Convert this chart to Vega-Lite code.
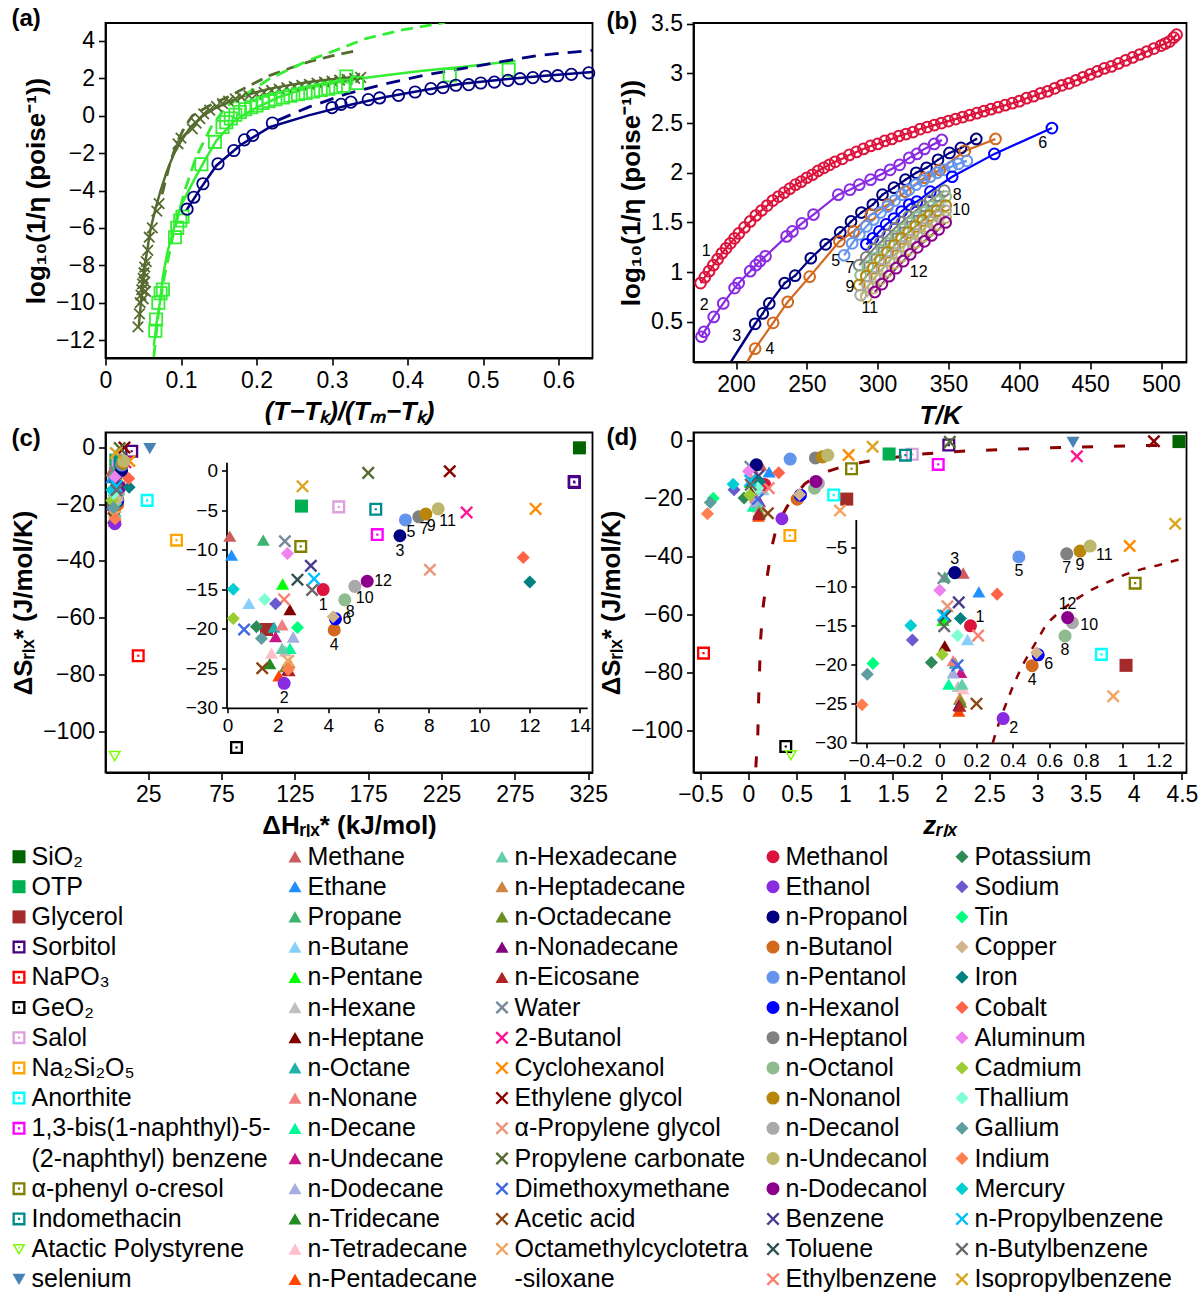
{
  "$schema": "https://vega.github.io/schema/vega-lite/v6.json",
  "padding": {"left": 6.5, "top": 6, "right": 5, "bottom": 0},
  "config": {
    "font": "Liberation Sans",
    "view": {"stroke": "#000", "strokeWidth": 1.8},
    "axis": {
      "grid": false, "domainColor": "#000", "domainWidth": 1.8, "tickColor": "#000", "tickWidth": 1.6, "tickSize": 7,
      "labelColor": "#000", "labelFontSize": 23, "labelFont": "Liberation Sans", "labelPadding": 4,
      "titleColor": "#000", "titleFont": "Liberation Sans", "titleFontSize": 26, "titleFontWeight": "bold", "titlePadding": 6,
      "labelFlush": false, "labelOverlap": false, "labelBound": false
    },
    "title": {"fontSize": 24, "fontWeight": "bold", "font": "Liberation Sans", "color": "#000"},
    "text": {"font": "Liberation Sans", "color": "#000"}
  },
  "datasets": {
    "aOx": [
      {"x":0.043,"y":-11.3},{"x":0.045,"y":-10.6},{"x":0.046,"y":-10.0},{"x":0.047,"y":-9.6},{"x":0.048,"y":-9.3},{"x":0.049,"y":-9.0},{"x":0.05,"y":-8.7},{"x":0.05,"y":-9.8},{"x":0.051,"y":-8.4},{"x":0.052,"y":-8.9},{"x":0.052,"y":-8.1},{"x":0.053,"y":-9.4},{"x":0.054,"y":-7.8},{"x":0.056,"y":-7.2},{"x":0.058,"y":-6.5},{"x":0.062,"y":-6.0},{"x":0.068,"y":-5.1},{"x":0.071,"y":-4.7},{"x":0.096,"y":-1.5},{"x":0.1,"y":-1.2},{"x":0.115,"y":-0.7},{"x":0.12,"y":-0.4},{"x":0.125,"y":-0.15},{"x":0.13,"y":0.1},{"x":0.138,"y":0.3},{"x":0.147,"y":0.5},{"x":0.155,"y":0.65},{"x":0.163,"y":0.78},{"x":0.172,"y":0.9},{"x":0.18,"y":1.0},{"x":0.19,"y":1.08},{"x":0.2,"y":1.15},{"x":0.21,"y":1.25},{"x":0.22,"y":1.35},{"x":0.23,"y":1.42},{"x":0.24,"y":1.5},{"x":0.25,"y":1.56},{"x":0.26,"y":1.62},{"x":0.27,"y":1.68},{"x":0.28,"y":1.74},{"x":0.29,"y":1.8},{"x":0.3,"y":1.85},{"x":0.31,"y":1.9},{"x":0.32,"y":1.95},{"x":0.33,"y":2.0},{"x":0.338,"y":2.05}
    ],
    "aGsq": [
      {"x":0.066,"y":-11.5},{"x":0.067,"y":-10.9},{"x":0.07,"y":-10.0},{"x":0.073,"y":-9.5},{"x":0.076,"y":-9.3},{"x":0.092,"y":-6.5},{"x":0.095,"y":-6.0},{"x":0.099,"y":-5.6},{"x":0.102,"y":-5.4},{"x":0.127,"y":-2.6},{"x":0.145,"y":-1.4},{"x":0.155,"y":-0.6},{"x":0.16,"y":-0.35},{"x":0.166,"y":-0.15},{"x":0.172,"y":0.05},{"x":0.178,"y":0.2},{"x":0.185,"y":0.35},{"x":0.193,"y":0.45},{"x":0.2,"y":0.55},{"x":0.208,"y":0.68},{"x":0.216,"y":0.78},{"x":0.225,"y":0.88},{"x":0.235,"y":0.98},{"x":0.245,"y":1.07},{"x":0.255,"y":1.15},{"x":0.265,"y":1.22},{"x":0.275,"y":1.3},{"x":0.285,"y":1.38},{"x":0.295,"y":1.45},{"x":0.305,"y":1.52},{"x":0.315,"y":1.6},{"x":0.319,"y":2.1},{"x":0.333,"y":1.75},{"x":0.456,"y":2.16},{"x":0.534,"y":2.46}
    ],
    "aNc": [
      {"x":0.108,"y":-5.0},{"x":0.117,"y":-4.36},{"x":0.129,"y":-3.64},{"x":0.149,"y":-2.57},{"x":0.17,"y":-1.86},{"x":0.184,"y":-1.29},{"x":0.195,"y":-1.05},{"x":0.221,"y":-0.39},{"x":0.3,"y":0.43},{"x":0.312,"y":0.61},{"x":0.325,"y":0.73},{"x":0.348,"y":0.86},{"x":0.363,"y":0.95},{"x":0.388,"y":1.09},{"x":0.41,"y":1.27},{"x":0.431,"y":1.45},{"x":0.447,"y":1.5},{"x":0.464,"y":1.63},{"x":0.481,"y":1.66},{"x":0.497,"y":1.75},{"x":0.515,"y":1.8},{"x":0.533,"y":1.89},{"x":0.549,"y":1.98},{"x":0.566,"y":2.04},{"x":0.583,"y":2.11},{"x":0.599,"y":2.14},{"x":0.617,"y":2.21},{"x":0.64,"y":2.29}
    ],
    "aOs": [
      {"x":0.044,"y":-11.3},{"x":0.048,"y":-9.5},{"x":0.052,"y":-8.0},{"x":0.056,"y":-7.0},{"x":0.06,"y":-6.0},{"x":0.066,"y":-5.0},{"x":0.073,"y":-4.0},{"x":0.081,"y":-3.0},{"x":0.09,"y":-2.1},{"x":0.1,"y":-1.35},{"x":0.113,"y":-0.6},{"x":0.127,"y":-0.07},{"x":0.145,"y":0.4},{"x":0.168,"y":0.82},{"x":0.19,"y":1.15},{"x":0.218,"y":1.45},{"x":0.245,"y":1.65},{"x":0.269,"y":1.8},{"x":0.3,"y":1.95},{"x":0.335,"y":2.1}
    ],
    "aOd": [
      {"x":0.075,"y":-4.2},{"x":0.085,"y":-2.6},{"x":0.095,"y":-1.4},{"x":0.105,"y":-0.6},{"x":0.115,"y":0.0},{"x":0.127,"y":0.29},{"x":0.145,"y":0.7},{"x":0.162,"y":1.0},{"x":0.19,"y":1.6},{"x":0.218,"y":2.16},{"x":0.245,"y":2.55},{"x":0.269,"y":2.88},{"x":0.3,"y":3.2},{"x":0.335,"y":3.5}
    ],
    "aGs": [
      {"x":0.064,"y":-12.3},{"x":0.068,"y":-11.0},{"x":0.072,"y":-10.0},{"x":0.076,"y":-8.6},{"x":0.082,"y":-7.3},{"x":0.091,"y":-5.96},{"x":0.1,"y":-4.8},{"x":0.117,"y":-3.46},{"x":0.13,"y":-2.5},{"x":0.147,"y":-1.32},{"x":0.17,"y":-0.3},{"x":0.193,"y":0.29},{"x":0.23,"y":1.0},{"x":0.269,"y":1.5},{"x":0.32,"y":1.9},{"x":0.371,"y":2.16},{"x":0.42,"y":2.4},{"x":0.472,"y":2.6},{"x":0.543,"y":2.93}
    ],
    "aGd": [
      {"x":0.064,"y":-12.9},{"x":0.07,"y":-10.6},{"x":0.078,"y":-8.6},{"x":0.09,"y":-6.3},{"x":0.105,"y":-4.0},{"x":0.12,"y":-2.2},{"x":0.14,"y":-0.6},{"x":0.16,"y":0.5},{"x":0.188,"y":1.2},{"x":0.218,"y":2.0},{"x":0.269,"y":2.96},{"x":0.305,"y":3.5},{"x":0.345,"y":4.13},{"x":0.391,"y":4.57},{"x":0.442,"y":4.93},{"x":0.45,"y":5.0}
    ],
    "aNs": [
      {"x":0.107,"y":-5.07},{"x":0.127,"y":-3.82},{"x":0.147,"y":-2.66},{"x":0.178,"y":-1.59},{"x":0.218,"y":-0.6},{"x":0.269,"y":0.02},{"x":0.32,"y":0.55},{"x":0.371,"y":1.0},{"x":0.421,"y":1.36},{"x":0.472,"y":1.71},{"x":0.523,"y":1.93},{"x":0.574,"y":2.11},{"x":0.645,"y":2.34}
    ],
    "aNd": [
      {"x":0.228,"y":-0.25},{"x":0.269,"y":0.46},{"x":0.32,"y":1.18},{"x":0.371,"y":1.71},{"x":0.421,"y":2.16},{"x":0.472,"y":2.52},{"x":0.523,"y":2.88},{"x":0.574,"y":3.23},{"x":0.645,"y":3.5}
    ],
    "bp": [
      {"s":"1","T":175,"y":0.89},{"s":"1","T":178,"y":0.95},{"s":"1","T":181,"y":1.01},{"s":"1","T":184,"y":1.07},{"s":"1","T":187,"y":1.13},{"s":"1","T":190,"y":1.19},{"s":"1","T":193,"y":1.24},{"s":"1","T":196,"y":1.29},{"s":"1","T":199,"y":1.34},{"s":"1","T":202,"y":1.39},{"s":"1","T":206,"y":1.45},{"s":"1","T":210,"y":1.51},{"s":"1","T":214,"y":1.57},{"s":"1","T":218,"y":1.62},{"s":"1","T":222,"y":1.67},{"s":"1","T":226,"y":1.72},{"s":"1","T":230,"y":1.76},{"s":"1","T":234,"y":1.8},{"s":"1","T":238,"y":1.84},{"s":"1","T":242,"y":1.88},{"s":"1","T":246,"y":1.91},{"s":"1","T":250,"y":1.95},{"s":"1","T":254,"y":1.98},{"s":"1","T":258,"y":2.02},{"s":"1","T":262,"y":2.05},{"s":"1","T":266,"y":2.08},{"s":"1","T":270,"y":2.11},{"s":"1","T":275,"y":2.14},{"s":"1","T":280,"y":2.18},{"s":"1","T":285,"y":2.21},{"s":"1","T":290,"y":2.24},{"s":"1","T":295,"y":2.27},{"s":"1","T":300,"y":2.29},{"s":"1","T":305,"y":2.32},{"s":"1","T":310,"y":2.34},{"s":"1","T":315,"y":2.37},{"s":"1","T":320,"y":2.39},{"s":"1","T":325,"y":2.41},{"s":"1","T":330,"y":2.44},{"s":"1","T":335,"y":2.46},{"s":"1","T":340,"y":2.48},{"s":"1","T":345,"y":2.5},{"s":"1","T":350,"y":2.52},{"s":"1","T":355,"y":2.54},{"s":"1","T":360,"y":2.56},{"s":"1","T":365,"y":2.58},{"s":"1","T":370,"y":2.6},{"s":"1","T":375,"y":2.62},{"s":"1","T":380,"y":2.64},{"s":"1","T":385,"y":2.66},{"s":"1","T":390,"y":2.68},{"s":"1","T":395,"y":2.7},{"s":"1","T":400,"y":2.72},{"s":"1","T":405,"y":2.75},{"s":"1","T":410,"y":2.77},{"s":"1","T":415,"y":2.8},{"s":"1","T":420,"y":2.82},{"s":"1","T":425,"y":2.85},{"s":"1","T":430,"y":2.88},{"s":"1","T":435,"y":2.9},{"s":"1","T":440,"y":2.93},{"s":"1","T":445,"y":2.96},{"s":"1","T":450,"y":2.99},{"s":"1","T":455,"y":3.02},{"s":"1","T":460,"y":3.05},{"s":"1","T":465,"y":3.07},{"s":"1","T":470,"y":3.1},{"s":"1","T":475,"y":3.13},{"s":"1","T":480,"y":3.16},{"s":"1","T":485,"y":3.19},{"s":"1","T":490,"y":3.22},{"s":"1","T":495,"y":3.25},{"s":"1","T":500,"y":3.28},{"s":"1","T":503,"y":3.3},{"s":"1","T":506,"y":3.32},{"s":"1","T":509,"y":3.36},{"s":"1","T":511,"y":3.39},
      {"s":"2","T":175.6,"y":0.35},{"s":"2","T":177.5,"y":0.4},{"s":"2","T":184.3,"y":0.55},{"s":"2","T":191,"y":0.685},{"s":"2","T":199,"y":0.84},{"s":"2","T":201.9,"y":0.89},{"s":"2","T":210,"y":1.01},{"s":"2","T":214,"y":1.07},{"s":"2","T":216.8,"y":1.11},{"s":"2","T":220.8,"y":1.16},{"s":"2","T":235.7,"y":1.36},{"s":"2","T":239.8,"y":1.41},{"s":"2","T":246.5,"y":1.49},{"s":"2","T":254.7,"y":1.58},{"s":"2","T":272.2,"y":1.78},{"s":"2","T":280.4,"y":1.83},{"s":"2","T":287,"y":1.88},{"s":"2","T":295,"y":1.93},{"s":"2","T":302,"y":1.98},{"s":"2","T":308.8,"y":2.03},{"s":"2","T":315.5,"y":2.08},{"s":"2","T":322.3,"y":2.15},{"s":"2","T":327.7,"y":2.19},{"s":"2","T":333,"y":2.24},{"s":"2","T":339.9,"y":2.29},{"s":"2","T":345.3,"y":2.33},
      {"s":"3","T":213.5,"y":0.48},{"s":"3","T":218.9,"y":0.585},{"s":"3","T":223.5,"y":0.685},{"s":"3","T":234.4,"y":0.89},{"s":"3","T":241.7,"y":0.965},{"s":"3","T":252.8,"y":1.14},{"s":"3","T":263.3,"y":1.28},{"s":"3","T":273.6,"y":1.4},{"s":"3","T":281.2,"y":1.51},{"s":"3","T":288.5,"y":1.6},{"s":"3","T":296.6,"y":1.68},{"s":"3","T":303.4,"y":1.78},{"s":"3","T":311.5,"y":1.85},{"s":"3","T":319.6,"y":1.93},{"s":"3","T":327.2,"y":2.0},{"s":"3","T":334.5,"y":2.05},{"s":"3","T":342.6,"y":2.13},{"s":"3","T":350.7,"y":2.2},{"s":"3","T":358.8,"y":2.25},{"s":"3","T":369.6,"y":2.34},
      {"s":"4","T":213.5,"y":0.23},{"s":"4","T":226.2,"y":0.49},{"s":"4","T":236.5,"y":0.7},{"s":"4","T":252,"y":0.955},{"s":"4","T":273,"y":1.31},{"s":"4","T":283,"y":1.41},{"s":"4","T":295.2,"y":1.58},{"s":"4","T":307.4,"y":1.68},{"s":"4","T":319.6,"y":1.81},{"s":"4","T":333,"y":1.95},{"s":"4","T":343.9,"y":2.03},{"s":"4","T":361.5,"y":2.22},{"s":"4","T":383.2,"y":2.34},
      {"s":"5","T":276.3,"y":1.17},{"s":"5","T":282,"y":1.29},{"s":"5","T":287,"y":1.38},{"s":"5","T":292,"y":1.46},{"s":"5","T":297,"y":1.53},{"s":"5","T":302,"y":1.6},{"s":"5","T":307,"y":1.66},{"s":"5","T":312,"y":1.72},{"s":"5","T":317,"y":1.78},{"s":"5","T":322,"y":1.83},{"s":"5","T":327,"y":1.88},{"s":"5","T":332,"y":1.92},{"s":"5","T":337,"y":1.96},{"s":"5","T":342,"y":2.0},{"s":"5","T":347,"y":2.03},{"s":"5","T":352,"y":2.06},{"s":"5","T":357,"y":2.09},{"s":"5","T":363,"y":2.12},
      {"s":"6","T":292,"y":1.28},{"s":"6","T":296.6,"y":1.34},{"s":"6","T":301.2,"y":1.41},{"s":"6","T":306,"y":1.48},{"s":"6","T":311.5,"y":1.54},{"s":"6","T":316.9,"y":1.61},{"s":"6","T":322.3,"y":1.68},{"s":"6","T":327.7,"y":1.71},{"s":"6","T":337.2,"y":1.81},{"s":"6","T":352.6,"y":1.96},{"s":"6","T":382.4,"y":2.19},{"s":"6","T":423,"y":2.45},
      {"s":"7","T":287,"y":1.07},{"s":"7","T":292,"y":1.15},{"s":"7","T":297,"y":1.23},{"s":"7","T":302,"y":1.3},{"s":"7","T":307,"y":1.37},{"s":"7","T":312,"y":1.44},{"s":"7","T":317,"y":1.5},{"s":"7","T":322,"y":1.56},{"s":"7","T":327,"y":1.62},{"s":"7","T":332,"y":1.67},{"s":"7","T":337,"y":1.72},{"s":"7","T":342,"y":1.77},{"s":"7","T":347,"y":1.82},
      {"s":"8","T":288,"y":0.97},{"s":"8","T":293,"y":1.06},{"s":"8","T":298,"y":1.14},{"s":"8","T":303,"y":1.22},{"s":"8","T":308,"y":1.29},{"s":"8","T":313,"y":1.36},{"s":"8","T":318,"y":1.43},{"s":"8","T":323,"y":1.49},{"s":"8","T":328,"y":1.55},{"s":"8","T":333,"y":1.6},{"s":"8","T":338,"y":1.66},{"s":"8","T":343,"y":1.71},{"s":"8","T":348,"y":1.76},
      {"s":"9","T":287,"y":0.87},{"s":"9","T":292,"y":0.96},{"s":"9","T":297,"y":1.04},{"s":"9","T":302,"y":1.12},{"s":"9","T":307,"y":1.2},{"s":"9","T":312,"y":1.27},{"s":"9","T":317,"y":1.34},{"s":"9","T":322,"y":1.4},{"s":"9","T":327,"y":1.46},{"s":"9","T":332,"y":1.52},{"s":"9","T":337,"y":1.57},{"s":"9","T":342,"y":1.62},{"s":"9","T":348,"y":1.67},
      {"s":"10","T":288,"y":0.77},{"s":"10","T":293,"y":0.86},{"s":"10","T":298,"y":0.95},{"s":"10","T":303,"y":1.03},{"s":"10","T":308,"y":1.11},{"s":"10","T":313,"y":1.19},{"s":"10","T":318,"y":1.26},{"s":"10","T":323,"y":1.32},{"s":"10","T":328,"y":1.38},{"s":"10","T":333,"y":1.44},{"s":"10","T":338,"y":1.5},{"s":"10","T":343,"y":1.56},{"s":"10","T":348,"y":1.62},
      {"s":"11","T":292,"y":0.75},{"s":"11","T":297,"y":0.84},{"s":"11","T":302,"y":0.93},{"s":"11","T":307,"y":1.01},{"s":"11","T":312,"y":1.09},{"s":"11","T":317,"y":1.16},{"s":"11","T":322,"y":1.23},{"s":"11","T":327,"y":1.3},{"s":"11","T":332,"y":1.36},{"s":"11","T":337,"y":1.42},{"s":"11","T":342,"y":1.48},{"s":"11","T":348,"y":1.55},
      {"s":"12","T":298,"y":0.8},{"s":"12","T":303,"y":0.88},{"s":"12","T":308,"y":0.96},{"s":"12","T":313,"y":1.04},{"s":"12","T":318,"y":1.11},{"s":"12","T":323,"y":1.18},{"s":"12","T":328,"y":1.25},{"s":"12","T":333,"y":1.31},{"s":"12","T":338,"y":1.37},{"s":"12","T":343,"y":1.43},{"s":"12","T":348,"y":1.5}
    ],
    "bext": [
      {"s":"3","T":196.5,"y":0.1},{"s":"3","T":205,"y":0.29},{"s":"3","T":213.5,"y":0.48},
      {"s":"4","T":208,"y":0.1},{"s":"4","T":213.5,"y":0.23}
    ],
    "bl": [
      {"t":"1","T":179,"y":1.21},{"t":"2","T":177.5,"y":0.67},{"t":"3","T":200.5,"y":0.36},{"t":"4","T":224,"y":0.23},{"t":"5","T":270.3,"y":1.11},{"t":"6","T":416.5,"y":2.3},{"t":"7","T":280.4,"y":1.04},{"t":"8","T":356.1,"y":1.78},{"t":"9","T":280.4,"y":0.85},{"t":"10","T":358.8,"y":1.63},{"t":"11","T":294.4,"y":0.64},{"t":"12","T":329,"y":1.0}
    ],
    "dc": [
      {"z":0.076,"s":-112.9},{"z":0.097,"s":-101.3},{"z":0.104,"s":-90.9},{"z":0.125,"s":-69.0},{"z":0.148,"s":-58.4},{"z":0.19,"s":-47.7},{"z":0.242,"s":-36.7},{"z":0.29,"s":-30.0},{"z":0.33,"s":-27.0},{"z":0.36,"s":-25.2},{"z":0.4,"s":-22.8},{"z":0.45,"s":-20.2},{"z":0.51,"s":-17.8},{"z":0.585,"s":-14.8},{"z":0.667,"s":-13.0},{"z":0.75,"s":-11.6},{"z":0.83,"s":-10.45},{"z":0.92,"s":-9.45},{"z":1.015,"s":-8.5},{"z":1.106,"s":-7.8},{"z":1.197,"s":-7.3},{"z":1.289,"s":-6.7},{"z":1.34,"s":-6.45},{"z":1.42,"s":-6.1},{"z":1.73,"s":-4.7},{"z":2.05,"s":-3.9},{"z":2.35,"s":-3.3},{"z":2.72,"s":-2.9},{"z":3.03,"s":-2.5},{"z":3.36,"s":-2.1},{"z":3.69,"s":-1.9},{"z":4.01,"s":-1.6},{"z":4.33,"s":-1.5}
    ],
    "pts": [
      {"n":"SiO₂","h":319,"s":-0.2,"z":4.47},
      {"n":"OTP","h":2.94,"s":-4.5,"z":1.46},
      {"n":"Glycerol","h":1.55,"s":-20.1,"z":1.02},
      {"n":"Sorbitol","h":13.77,"s":-1.4,"z":2.08},
      {"n":"Sorbitol","h":315.6,"s":-12.4},
      {"n":"NaPO₃","h":18.2,"s":-73.4,"z":-0.467},
      {"n":"GeO₂","h":85.2,"s":-105.7,"z":0.387},
      {"n":"Salol","h":4.42,"s":-4.6,"z":1.7},
      {"n":"Na₂Si₂O₅","h":44.3,"s":-32.7,"z":0.43},
      {"n":"Anorthite","h":24.3,"s":-18.7,"z":0.885},
      {"n":"1,3-bis(1-naphthyl)-5-(2-naphthyl) benzene","h":5.95,"s":-8.1,"z":1.97},
      {"n":"α-phenyl o-cresol","h":2.91,"s":-9.6,"z":1.07},
      {"n":"Indomethacin","h":5.89,"s":-4.9,"z":1.63},
      {"n":"Atactic Polystyrene","h":2.2,"s":-108.7,"z":0.44},
      {"n":"selenium","h":26.1,"s":-0.5,"z":3.37},
      {"n":"Methane","h":0.09,"s":-8.3,"z":0.128},
      {"n":"Ethane","h":0.16,"s":-10.7,"z":0.214},
      {"n":"Propane","h":1.42,"s":-8.8,"z":0.027},
      {"n":"n-Butane","h":0.85,"s":-16.8,"z":0.152},
      {"n":"n-Pentane","h":2.19,"s":-14.35,"z":0.018},
      {"n":"n-Hexane","h":2.3,"s":-22.8,"z":0.1},
      {"n":"n-Heptane","h":2.48,"s":-17.6,"z":0.027},
      {"n":"n-Octane","h":1.85,"s":-19.8,"z":0.085},
      {"n":"n-Nonane","h":2.17,"s":-19.5,"z":0.073},
      {"n":"n-Decane","h":2.48,"s":-22.5,"z":0.049},
      {"n":"n-Undecane","h":1.91,"s":-21.0,"z":0.115},
      {"n":"n-Dodecane","h":2.61,"s":-21.05,"z":0.073},
      {"n":"n-Tridecane","h":1.68,"s":-24.4,"z":0.11},
      {"n":"n-Tetradecane","h":1.75,"s":-23.1,"z":0.128},
      {"n":"n-Pentadecane","h":2.04,"s":-25.95,"z":0.104},
      {"n":"n-Hexadecane","h":2.17,"s":-22.5,"z":0.122},
      {"n":"n-Heptadecane","h":2.45,"s":-24.3,"z":0.11},
      {"n":"n-Octadecane","h":2.3,"s":-24.8,"z":0.115},
      {"n":"n-Nonadecane","h":2.4,"s":-25.2,"z":0.105},
      {"n":"n-Eicosane","h":2.45,"s":-25.3,"z":0.11},
      {"n":"Water","h":2.28,"s":-8.95,"z":0.02},
      {"n":"2-Butanol","h":9.5,"s":-5.3,"z":3.41},
      {"n":"Cyclohexanol","h":12.24,"s":-4.85,"z":1.04},
      {"n":"Ethylene glycol","h":8.83,"s":-0.1,"z":4.21},
      {"n":"α-Propylene glycol","h":8.04,"s":-12.55,"z":0.042},
      {"n":"Propylene carbonate","h":5.59,"s":-0.3,"z":2.09},
      {"n":"Dimethoxymethane","h":0.66,"s":-20.1,"z":0.097},
      {"n":"Acetic acid","h":1.38,"s":-25.0,"z":0.201},
      {"n":"Octamethylcyclotetrasiloxane","h":2.41,"s":-24.05,"z":0.95},
      {"n":"Methanol","h":3.8,"s":-15.05,"z":0.168,"k":1},
      {"n":"Ethanol","h":2.25,"s":-26.9,"z":0.347,"k":2},
      {"n":"n-Propanol","h":6.85,"s":-8.25,"z":0.082,"k":3},
      {"n":"n-Butanol","h":4.24,"s":-20.15,"z":0.506,"k":4},
      {"n":"n-Pentanol","h":7.07,"s":-6.25,"z":0.433,"k":5},
      {"n":"n-Hexanol","h":4.29,"s":-18.75,"z":0.539,"k":6},
      {"n":"n-Heptanol","h":7.6,"s":-5.85,"z":0.695,"k":7},
      {"n":"n-Octanol","h":4.66,"s":-16.35,"z":0.686,"k":8},
      {"n":"n-Nonanol","h":7.88,"s":-5.5,"z":0.768,"k":9},
      {"n":"n-Decanol","h":5.06,"s":-14.65,"z":0.726,"k":10},
      {"n":"n-Undecanol","h":8.37,"s":-4.85,"z":0.823,"k":11},
      {"n":"n-Dodecanol","h":5.55,"s":-14.0,"z":0.7,"k":12},
      {"n":"Benzene","h":3.31,"s":-12.05,"z":0.104},
      {"n":"Toluene","h":2.78,"s":-13.8,"z":0.03},
      {"n":"Ethylbenzene","h":2.25,"s":-16.3,"z":0.21},
      {"n":"Potassium","h":1.15,"s":-19.75,"z":-0.046},
      {"n":"Sodium","h":1.91,"s":-16.85,"z":-0.15},
      {"n":"Tin","h":2.78,"s":-19.85,"z":-0.366},
      {"n":"Copper","h":4.2,"s":-18.5,"z":0.53},
      {"n":"Iron","h":12.01,"s":-14.1,"z":0.113},
      {"n":"Cobalt","h":11.75,"s":-11.0,"z":0.314},
      {"n":"Aluminum","h":2.38,"s":-10.5,"z":0.0},
      {"n":"Cadmium","h":0.23,"s":-18.7,"z":0.013},
      {"n":"Thallium","h":1.48,"s":-16.3,"z":0.097},
      {"n":"Gallium","h":1.35,"s":-21.25,"z":-0.397},
      {"n":"Indium","h":2.41,"s":-25.15,"z":-0.426},
      {"n":"Mercury","h":0.23,"s":-15.0,"z":-0.159},
      {"n":"n-Propylbenzene","h":3.44,"s":-13.7,"z":0.018},
      {"n":"n-Butylbenzene","h":3.36,"s":-15.1,"z":0.024},
      {"n":"Isopropylbenzene","h":2.98,"s":-2.0,"z":1.289}
    ]
  },
  "concat": [
    {
      "title": {"text": "(a)", "anchor": "start", "frame": "group", "dx": -94, "offset": -8},
      "width": 487,
      "height": 335,
      "encoding": {
        "x": {"field": "x", "type": "quantitative", "scale": {"domain": [0, 0.645], "nice": false, "zero": false}, "axis": {"values": [0, 0.1, 0.2, 0.3, 0.4, 0.5, 0.6], "format": ".6~g", "title": "(T−Tₖ)/(Tₘ−Tₖ)", "titleFontStyle": "italic"}},
        "y": {"field": "y", "type": "quantitative", "scale": {"domain": [-12.96, 4.96], "nice": false, "zero": false}, "axis": {"values": [-12, -10, -8, -6, -4, -2, 0, 2, 4], "format": ".6~g", "title": "log₁₀(1/η (poise⁻¹))"}}
      },
      "layer": [
        {"data": {"name": "aOs"}, "mark": {"type": "line", "color": "#556b2f", "strokeWidth": 2.5, "clip": true}},
        {"data": {"name": "aOd"}, "mark": {"type": "line", "color": "#556b2f", "strokeWidth": 2.8, "strokeDash": [12, 7], "clip": true}},
        {"data": {"name": "aGs"}, "mark": {"type": "line", "color": "#33ee33", "strokeWidth": 2.5, "clip": true}},
        {"data": {"name": "aGd"}, "mark": {"type": "line", "color": "#33ee33", "strokeWidth": 2.8, "strokeDash": [12, 7], "clip": true}},
        {"data": {"name": "aNs"}, "mark": {"type": "line", "color": "#000080", "strokeWidth": 2.5, "clip": true}},
        {"data": {"name": "aNd"}, "mark": {"type": "line", "color": "#000080", "strokeWidth": 2.8, "strokeDash": [14, 9], "clip": true}},
        {"data": {"name": "aOx"}, "mark": {"type": "point", "shape": "M-1,-1L1,1M-1,1L1,-1", "filled": false, "color": "#556b2f", "size": 110, "strokeWidth": 1.8, "opacity": 1}},
        {"data": {"name": "aGsq"}, "mark": {"type": "point", "shape": "square", "filled": false, "color": "#33ee33", "size": 150, "strokeWidth": 1.8, "opacity": 1}},
        {"data": {"name": "aNc"}, "mark": {"type": "point", "shape": "circle", "filled": false, "color": "#000080", "size": 130, "strokeWidth": 1.8, "opacity": 1}}
      ]
    },
    {
      "title": {"text": "(b)", "anchor": "start", "frame": "group", "dx": -87, "offset": -21},
      "width": 493,
      "height": 339,
      "encoding": {
        "x": {"field": "T", "type": "quantitative", "scale": {"domain": [170, 518], "nice": false, "zero": false}, "axis": {"values": [200, 250, 300, 350, 400, 450, 500], "format": ".6~g", "title": "T/K", "titleFontStyle": "italic"}},
        "y": {"field": "y", "type": "quantitative", "scale": {"domain": [0.096, 3.507], "nice": false, "zero": false}, "axis": {"values": [0.5, 1, 1.5, 2, 2.5, 3, 3.5], "format": ".6~g", "title": "log₁₀(1/η (poise⁻¹))"}}
      },
      "layer": [
        {"data": {"name": "bext"}, "mark": {"type": "line", "strokeWidth": 2.5, "clip": true}, "encoding": {"stroke": {"field": "s", "type": "nominal", "legend": null, "scale": {"domain": ["1","2","3","4","5","6","7","8","9","10","11","12"], "range": ["#dc143c","#8a2be2","#000080","#d2691e","#6495ed","#0000ff","#808080","#8fbc8f","#b8860b","#a9a9a9","#bdb76b","#8b008b"]}}, "detail": {"field": "s"}}},
        {"data": {"name": "bp"}, "mark": {"type": "line", "strokeWidth": 2.2, "clip": true}, "encoding": {"stroke": {"field": "s", "type": "nominal", "legend": null}, "detail": {"field": "s"}}},
        {"data": {"name": "bp"}, "mark": {"type": "point", "shape": "circle", "filled": false, "size": 115, "strokeWidth": 2, "opacity": 1}, "encoding": {"stroke": {"field": "s", "type": "nominal", "legend": null}}},
        {"data": {"name": "bp"}, "transform": [{"filter": "datum.s == '3'"}], "mark": {"type": "point", "shape": "circle", "filled": true, "size": 6, "color": "#000080", "opacity": 1}},
        {"data": {"name": "bl"}, "mark": {"type": "text", "fontSize": 16, "align": "center", "baseline": "middle"}, "encoding": {"text": {"field": "t"}}}
      ]
    },
    {
      "title": {"text": "(c)", "anchor": "start", "frame": "group", "dx": -94, "offset": -18},
      "width": 487,
      "height": 340,
      "layer": [
        {
          "data": {"name": "pts"},
          "mark": {"type": "point", "filled": true, "size": 170, "opacity": 1},
          "encoding": {
            "x": {"field": "h", "type": "quantitative", "scale": {"domain": [-4.1, 327.9], "nice": false, "zero": false}, "axis": {"orient": "bottom", "values": [25, 75, 125, 175, 225, 275, 325], "format": ".6~g", "title": "ΔHᵣₗₓ* (kJ/mol)"}},
            "y": {"field": "s", "type": "quantitative", "scale": {"domain": [-114.5, 5.2], "nice": false, "zero": false}, "axis": {"orient": "left", "values": [0, -20, -40, -60, -80, -100], "format": ".6~g", "title": "ΔSᵣₗₓ* (J/mol/K)"}},
            "color": {
              "field": "n", "type": "nominal",
              "scale": {
                "domain": ["SiO₂","OTP","Glycerol","Sorbitol","NaPO₃","GeO₂","Salol","Na₂Si₂O₅","Anorthite","1,3-bis(1-naphthyl)-5-(2-naphthyl) benzene","(2-naphthyl) benzene","α-phenyl o-cresol","Indomethacin","Atactic Polystyrene","selenium","Methane","Ethane","Propane","n-Butane","n-Pentane","n-Hexane","n-Heptane","n-Octane","n-Nonane","n-Decane","n-Undecane","n-Dodecane","n-Tridecane","n-Tetradecane","n-Pentadecane","n-Hexadecane","n-Heptadecane","n-Octadecane","n-Nonadecane","n-Eicosane","Water","2-Butanol","Cyclohexanol","Ethylene glycol","α-Propylene glycol","Propylene carbonate","Dimethoxymethane","Acetic acid","Octamethylcyclotetrasiloxane","-siloxane","Methanol","Ethanol","n-Propanol","n-Butanol","n-Pentanol","n-Hexanol","n-Heptanol","n-Octanol","n-Nonanol","n-Decanol","n-Undecanol","n-Dodecanol","Benzene","Toluene","Ethylbenzene","Potassium","Sodium","Tin","Copper","Iron","Cobalt","Aluminum","Cadmium","Thallium","Gallium","Indium","Mercury","n-Propylbenzene","n-Butylbenzene","Isopropylbenzene"],
                "range": ["#006400","#00b050","#a52a2a","#4b0082","#ff0000","#000000","#dda0dd","#ffa500","#00ffff","#ff00ff","transparent","#808000","#008b8b","#7cfc00","#4682b4",
                          "#cd5c5c","#1e90ff","#3cb371","#87cefa","#00ff00","#c0c0c0","#800000","#20b2aa","#f08080","#00fa9a","#c71585","#a4aedf","#228b22","#ffc0cb","#ff4500",
                          "#66cdaa","#cd853f","#6b8e23","#800080","#b22222","#778899","#ff1493","#ff8c00","#8b0000","#e9967a","#556b2f","#4169e1","#8b4513","#f4a460","transparent",
                          "#dc143c","#8a2be2","#000080","#d2691e","#6495ed","#0000ff","#808080","#8fbc8f","#b8860b","#a9a9a9","#bdb76b","#8b008b","#483d8b","#2f4f4f","#fa8072",
                          "#2e8b57","#6a5acd","#00ff7f","#d2b48c","#008080","#ff6347","#ee82ee","#9acd32","#7fffd4","#5f9ea0","#ff7f50","#00ced1","#00bfff","#696969","#daa520"]
              },
              "legend": {
                "orient": "none", "legendX": -99, "legendY": 821, "columns": 5, "direction": "vertical", "title": null,
                "labelFontSize": 25, "labelFont": "Liberation Sans", "labelColor": "#000", "labelLimit": 400, "symbolLimit": 100,
                "symbolSize": 170, "symbolStrokeWidth": 0, "symbolOpacity": 1, "labelOffset": 0,
                "rowPadding": 4.2, "columnPadding": 12, "padding": 0,
                "labelExpr": "datum.label == '1,3-bis(1-naphthyl)-5-(2-naphthyl) benzene' ? '1,3-bis(1-naphthyl)-5-' : (datum.label == 'Octamethylcyclotetrasiloxane' ? 'Octamethylcyclotetra' : datum.label)"
              }
            },
            "shape": {
              "field": "n", "type": "nominal",
              "scale": {
                "domain": ["SiO₂","OTP","Glycerol","Sorbitol","NaPO₃","GeO₂","Salol","Na₂Si₂O₅","Anorthite","1,3-bis(1-naphthyl)-5-(2-naphthyl) benzene","(2-naphthyl) benzene","α-phenyl o-cresol","Indomethacin","Atactic Polystyrene","selenium","Methane","Ethane","Propane","n-Butane","n-Pentane","n-Hexane","n-Heptane","n-Octane","n-Nonane","n-Decane","n-Undecane","n-Dodecane","n-Tridecane","n-Tetradecane","n-Pentadecane","n-Hexadecane","n-Heptadecane","n-Octadecane","n-Nonadecane","n-Eicosane","Water","2-Butanol","Cyclohexanol","Ethylene glycol","α-Propylene glycol","Propylene carbonate","Dimethoxymethane","Acetic acid","Octamethylcyclotetrasiloxane","-siloxane","Methanol","Ethanol","n-Propanol","n-Butanol","n-Pentanol","n-Hexanol","n-Heptanol","n-Octanol","n-Nonanol","n-Decanol","n-Undecanol","n-Dodecanol","Benzene","Toluene","Ethylbenzene","Potassium","Sodium","Tin","Copper","Iron","Cobalt","Aluminum","Cadmium","Thallium","Gallium","Indium","Mercury","n-Propylbenzene","n-Butylbenzene","Isopropylbenzene"],
                "range": [
                  "square","square","square",
                  "M-1,-1H1V1H-1Z M-0.64,-0.64V0.64H0.64V-0.64Z M-0.17,-0.17H0.17V0.17H-0.17Z",
                  "M-1,-1H1V1H-1Z M-0.64,-0.64V0.64H0.64V-0.64Z M-0.17,-0.17H0.17V0.17H-0.17Z",
                  "M-1,-1H1V1H-1Z M-0.64,-0.64V0.64H0.64V-0.64Z M-0.17,-0.17H0.17V0.17H-0.17Z",
                  "M-1,-1H1V1H-1Z M-0.64,-0.64V0.64H0.64V-0.64Z M-0.17,-0.17H0.17V0.17H-0.17Z",
                  "M-1,-1H1V1H-1Z M-0.64,-0.64V0.64H0.64V-0.64Z M-0.17,-0.17H0.17V0.17H-0.17Z",
                  "M-1,-1H1V1H-1Z M-0.64,-0.64V0.64H0.64V-0.64Z M-0.17,-0.17H0.17V0.17H-0.17Z",
                  "M-1,-1H1V1H-1Z M-0.64,-0.64V0.64H0.64V-0.64Z M-0.17,-0.17H0.17V0.17H-0.17Z",
                  "circle",
                  "M-1,-1H1V1H-1Z M-0.64,-0.64V0.64H0.64V-0.64Z M-0.17,-0.17H0.17V0.17H-0.17Z",
                  "M-1,-1H1V1H-1Z M-0.64,-0.64V0.64H0.64V-0.64Z M-0.17,-0.17H0.17V0.17H-0.17Z",
                  "M-1,-0.8L1,-0.8L0,0.95Z M-0.6,-0.57L0,0.48L0.6,-0.57Z M-0.15,-0.28L0.15,-0.28L0,-0.02Z",
                  "triangle-down",
                  "triangle-up","triangle-up","triangle-up","triangle-up","triangle-up","triangle-up","triangle-up","triangle-up","triangle-up","triangle-up","triangle-up","triangle-up","triangle-up","triangle-up","triangle-up",
                  "triangle-up","triangle-up","triangle-up","triangle-up","triangle-up",
                  "M-1,-0.74L-0.74,-1L0,-0.26L0.74,-1L1,-0.74L0.26,0L1,0.74L0.74,1L0,0.26L-0.74,1L-1,0.74L-0.26,0Z",
                  "M-1,-0.74L-0.74,-1L0,-0.26L0.74,-1L1,-0.74L0.26,0L1,0.74L0.74,1L0,0.26L-0.74,1L-1,0.74L-0.26,0Z",
                  "M-1,-0.74L-0.74,-1L0,-0.26L0.74,-1L1,-0.74L0.26,0L1,0.74L0.74,1L0,0.26L-0.74,1L-1,0.74L-0.26,0Z",
                  "M-1,-0.74L-0.74,-1L0,-0.26L0.74,-1L1,-0.74L0.26,0L1,0.74L0.74,1L0,0.26L-0.74,1L-1,0.74L-0.26,0Z",
                  "M-1,-0.74L-0.74,-1L0,-0.26L0.74,-1L1,-0.74L0.26,0L1,0.74L0.74,1L0,0.26L-0.74,1L-1,0.74L-0.26,0Z",
                  "M-1,-0.74L-0.74,-1L0,-0.26L0.74,-1L1,-0.74L0.26,0L1,0.74L0.74,1L0,0.26L-0.74,1L-1,0.74L-0.26,0Z",
                  "M-1,-0.74L-0.74,-1L0,-0.26L0.74,-1L1,-0.74L0.26,0L1,0.74L0.74,1L0,0.26L-0.74,1L-1,0.74L-0.26,0Z",
                  "M-1,-0.74L-0.74,-1L0,-0.26L0.74,-1L1,-0.74L0.26,0L1,0.74L0.74,1L0,0.26L-0.74,1L-1,0.74L-0.26,0Z",
                  "M-1,-0.74L-0.74,-1L0,-0.26L0.74,-1L1,-0.74L0.26,0L1,0.74L0.74,1L0,0.26L-0.74,1L-1,0.74L-0.26,0Z",
                  "circle",
                  "circle","circle","circle","circle","circle","circle","circle","circle","circle","circle","circle","circle",
                  "M-1,-0.74L-0.74,-1L0,-0.26L0.74,-1L1,-0.74L0.26,0L1,0.74L0.74,1L0,0.26L-0.74,1L-1,0.74L-0.26,0Z",
                  "M-1,-0.74L-0.74,-1L0,-0.26L0.74,-1L1,-0.74L0.26,0L1,0.74L0.74,1L0,0.26L-0.74,1L-1,0.74L-0.26,0Z",
                  "M-1,-0.74L-0.74,-1L0,-0.26L0.74,-1L1,-0.74L0.26,0L1,0.74L0.74,1L0,0.26L-0.74,1L-1,0.74L-0.26,0Z",
                  "diamond","diamond","diamond","diamond","diamond","diamond","diamond","diamond","diamond","diamond","diamond","diamond",
                  "M-1,-0.74L-0.74,-1L0,-0.26L0.74,-1L1,-0.74L0.26,0L1,0.74L0.74,1L0,0.26L-0.74,1L-1,0.74L-0.26,0Z",
                  "M-1,-0.74L-0.74,-1L0,-0.26L0.74,-1L1,-0.74L0.26,0L1,0.74L0.74,1L0,0.26L-0.74,1L-1,0.74L-0.26,0Z",
                  "M-1,-0.74L-0.74,-1L0,-0.26L0.74,-1L1,-0.74L0.26,0L1,0.74L0.74,1L0,0.26L-0.74,1L-1,0.74L-0.26,0Z"
                ]
              }
            }
          }
        },
        {
          "encoding": {
            "x": {"field": "h", "type": "quantitative", "scale": {"domain": [-0.04, 14.29], "range": [121, 481.7], "nice": false, "zero": false}, "axis": {"orient": "bottom", "offset": -64.7, "values": [0, 2, 4, 6, 8, 10, 12, 14], "format": ".6~g", "title": null, "labelFontSize": 19, "tickSize": 5}},
            "y": {"field": "s", "type": "quantitative", "scale": {"domain": [-30, 1.05], "range": [275.3, 29.7], "nice": false, "zero": false}, "axis": {"orient": "left", "offset": -121, "values": [0, -5, -10, -15, -20, -25, -30], "format": ".6~g", "title": null, "labelFontSize": 19, "tickSize": 5}}
          },
          "layer": [
            {
              "data": {"values": [{}]},
              "mark": {"type": "rect", "fill": "white", "stroke": "black", "strokeWidth": 1.6},
              "encoding": {
                "x": {"datum": -0.04, "type": "quantitative", "scale": {"domain": [-0.04, 14.29], "range": [121, 481.7], "nice": false, "zero": false}, "axis": {"orient": "bottom", "offset": -64.7, "values": [0, 2, 4, 6, 8, 10, 12, 14], "format": ".6~g", "title": null, "labelFontSize": 19, "tickSize": 5}},
                "x2": {"datum": 14.29},
                "y": {"datum": -30, "type": "quantitative", "scale": {"domain": [-30, 1.05], "range": [275.3, 29.7], "nice": false, "zero": false}, "axis": {"orient": "left", "offset": -121, "values": [0, -5, -10, -15, -20, -25, -30], "format": ".6~g", "title": null, "labelFontSize": 19, "tickSize": 5}},
                "y2": {"datum": 1.05}
              }
            },
            {
              "data": {"name": "pts"},
              "transform": [{"filter": "datum.h <= 14.35 && datum.s >= -30.5"}],
              "mark": {"type": "point", "filled": true, "size": 170, "opacity": 1},
              "encoding": {"color": {"field": "n", "type": "nominal"}, "shape": {"field": "n", "type": "nominal"}}
            },
            {
              "data": {"name": "pts"},
              "transform": [{"filter": {"field": "k", "oneOf": [1, 2, 3, 4]}}],
              "mark": {"type": "text", "fontSize": 16, "align": "center", "baseline": "middle", "dy": 15},
              "encoding": {"text": {"field": "k"}}
            },
            {
              "data": {"name": "pts"},
              "transform": [{"filter": {"field": "k", "oneOf": [6, 12]}}],
              "mark": {"type": "text", "fontSize": 16, "align": "left", "baseline": "middle", "dx": 7},
              "encoding": {"text": {"field": "k"}}
            },
            {
              "data": {"name": "pts"},
              "transform": [{"filter": {"field": "k", "oneOf": [5, 7, 8, 9, 10, 11]}}],
              "mark": {"type": "text", "fontSize": 16, "align": "left", "baseline": "middle", "dx": 1, "dy": 12},
              "encoding": {"text": {"field": "k"}}
            }
          ]
        }
      ],
      "resolve": {"scale": {"x": "independent", "y": "independent"}, "axis": {"x": "independent", "y": "independent"}}
    },
    {
      "title": {"text": "(d)", "anchor": "start", "frame": "group", "dx": -87, "offset": -20},
      "width": 493,
      "height": 340,
      "layer": [
        {
          "encoding": {
            "x": {"field": "z", "type": "quantitative", "scale": {"domain": [-0.571, 4.548], "nice": false, "zero": false}, "axis": {"orient": "bottom", "values": [-0.5, 0, 0.5, 1, 1.5, 2, 2.5, 3, 3.5, 4, 4.5], "format": ".6~g", "title": "zᵣₗₓ", "titleFontStyle": "italic"}},
            "y": {"field": "s", "type": "quantitative", "scale": {"domain": [-114.7, 2.94], "nice": false, "zero": false}, "axis": {"orient": "left", "values": [0, -20, -40, -60, -80, -100], "format": ".6~g", "title": "ΔSᵣₗₓ* (J/mol/K)"}}
          },
          "layer": [
            {"data": {"name": "dc"}, "mark": {"type": "line", "color": "#8b0000", "strokeWidth": 3, "strokeDash": [11, 21], "clip": true}},
            {"data": {"name": "pts"}, "mark": {"type": "point", "filled": true, "size": 170, "opacity": 1}, "encoding": {"color": {"field": "n", "type": "nominal"}, "shape": {"field": "n", "type": "nominal"}}}
          ]
        },
        {
          "encoding": {
            "x": {"field": "z", "type": "quantitative", "scale": {"domain": [-0.46, 1.338], "range": [162.3, 490.6], "nice": false, "zero": false}, "axis": {"orient": "bottom", "offset": -29.7, "values": [-0.4, -0.2, 0, 0.2, 0.4, 0.6, 0.8, 1, 1.2], "format": ".6~g", "title": null, "labelFontSize": 19, "tickSize": 5}},
            "y": {"field": "s", "type": "quantitative", "scale": {"domain": [-30, -1.46], "range": [310.3, 87], "nice": false, "zero": false}, "axis": {"orient": "left", "offset": -162.3, "values": [-5, -10, -15, -20, -25, -30], "format": ".6~g", "title": null, "labelFontSize": 19, "tickSize": 5}}
          },
          "layer": [
            {
              "data": {"values": [{}]},
              "mark": {"type": "rect", "fill": "white", "stroke": "black", "strokeWidth": 1.6},
              "encoding": {
                "x": {"datum": -0.46, "type": "quantitative", "scale": {"domain": [-0.46, 1.338], "range": [162.3, 490.6], "nice": false, "zero": false}, "axis": {"orient": "bottom", "offset": -29.7, "values": [-0.4, -0.2, 0, 0.2, 0.4, 0.6, 0.8, 1, 1.2], "format": ".6~g", "title": null, "labelFontSize": 19, "tickSize": 5}},
                "x2": {"datum": 1.338},
                "y": {"datum": -30, "type": "quantitative", "scale": {"domain": [-30, -1.46], "range": [310.3, 87], "nice": false, "zero": false}, "axis": {"orient": "left", "offset": -162.3, "values": [-5, -10, -15, -20, -25, -30], "format": ".6~g", "title": null, "labelFontSize": 19, "tickSize": 5}},
                "y2": {"datum": -1.46}
              }
            },
            {
              "data": {"name": "dc"},
              "transform": [{"filter": "datum.z <= 1.35 && datum.s >= -30.01"}],
              "mark": {"type": "line", "color": "#8b0000", "strokeWidth": 2.5, "strokeDash": [8, 9]}
            },
            {
              "data": {"name": "pts"},
              "transform": [{"filter": "isValid(datum.z) && datum.z >= -0.47 && datum.z <= 1.35 && datum.s >= -30.5 && datum.s <= -1.3"}],
              "mark": {"type": "point", "filled": true, "size": 170, "opacity": 1},
              "encoding": {"color": {"field": "n", "type": "nominal"}, "shape": {"field": "n", "type": "nominal"}}
            },
            {
              "data": {"name": "pts"},
              "transform": [{"filter": {"field": "k", "oneOf": [3, 12]}}],
              "mark": {"type": "text", "fontSize": 16, "align": "center", "baseline": "middle", "dy": -14},
              "encoding": {"text": {"field": "k"}}
            },
            {
              "data": {"name": "pts"},
              "transform": [{"filter": {"field": "k", "oneOf": [4, 5, 7, 8, 9]}}],
              "mark": {"type": "text", "fontSize": 16, "align": "center", "baseline": "middle", "dy": 14},
              "encoding": {"text": {"field": "k"}}
            },
            {
              "data": {"name": "pts"},
              "transform": [{"filter": {"field": "k", "oneOf": [2, 6, 11]}}],
              "mark": {"type": "text", "fontSize": 16, "align": "left", "baseline": "middle", "dx": 6, "dy": 9},
              "encoding": {"text": {"field": "k"}}
            },
            {
              "data": {"name": "pts"},
              "transform": [{"filter": {"field": "k", "oneOf": [10]}}],
              "mark": {"type": "text", "fontSize": 16, "align": "left", "baseline": "middle", "dx": 8, "dy": 2},
              "encoding": {"text": {"field": "k"}}
            },
            {
              "data": {"name": "pts"},
              "transform": [{"filter": {"field": "k", "oneOf": [1]}}],
              "mark": {"type": "text", "fontSize": 16, "align": "left", "baseline": "middle", "dx": 5, "dy": -9},
              "encoding": {"text": {"field": "k"}}
            }
          ]
        }
      ],
      "resolve": {"scale": {"x": "independent", "y": "independent"}, "axis": {"x": "independent", "y": "independent"}}
    }
  ],
  "columns": 2,
  "spacing": {"row": 70.5, "column": 101},
  "bounds": "flush",
  "resolve": {"scale": {"color": "shared", "shape": "shared"}}
}
